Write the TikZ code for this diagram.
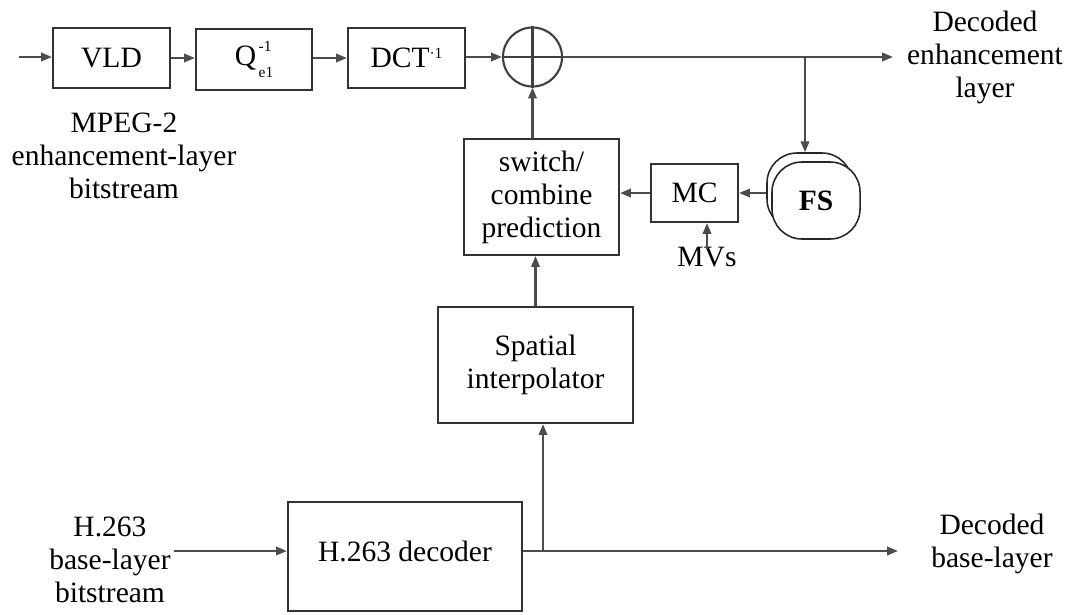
\documentclass[tikz,border=0pt]{standalone}
\usepackage{fontspec}
\setmainfont{Liberation Serif}
\usetikzlibrary{arrows.meta,positioning,calc}

\begin{document}
\begin{tikzpicture}[
    x=0.025cm, y=-0.025cm,
    font=\fontsize{21}{23.5}\selectfont,
    blk/.style={draw=black!80, line width=1.5pt, fill=white, inner sep=2pt, align=center},
    fsbox/.style={draw=black!85, line width=1.1pt, fill=white, rounded corners=0.75cm, inner sep=0pt},
    arr/.style={-{Triangle[length=0.27cm,width=0.21cm]}, line width=1.5pt, draw=black!70},
    ln/.style={line width=1.5pt, draw=black!75},
    txt/.style={align=center, inner sep=2pt}
]
\useasboundingbox (0,0) rectangle (1070,614);

% 拡張レイヤの復号
\coordinate (in1) at (19,57);
\node[blk, minimum width=2.925cm, minimum height=1.5cm] (vld) at (111.5,58) {VLD};
\node[blk, minimum width=2.9cm, minimum height=1.525cm] (iq) at (254,59.5)
    {Q\rlap{\raisebox{10pt}{\fontsize{11}{11}\selectfont\,-1}}\raisebox{-8pt}{\fontsize{11}{11}\selectfont\,e1}};
\node[blk, minimum width=2.925cm, minimum height=1.5cm] (dct) at (406.5,58)
    {DCT\raisebox{7pt}{\fontsize{11}{11}\selectfont\textperiodcentered1}};
\node[circle, ln, minimum size=1.475cm, inner sep=0pt] (sum) at (532.5,57) {};
\draw[ln] (sum.north) -- (sum.south) (sum.west) -- (sum.east);

\draw[arr] (in1) -- (in1 -| vld.west);
\draw[arr] (vld.east) -- (vld.east -| iq.west);
\draw[arr] (iq.east |- dct.west) -- (dct.west);
\draw[arr] (dct.east |- sum.west) -- (sum.west);

\node[txt] (mpeg) at (124,156) {MPEG-2\\enhancement-layer\\bitstream};

% 出力と予測ループ
\coordinate (out1) at (893,57);
\coordinate (br1) at (805,57);
\node[txt] (decenh) at (985,57) {Decoded\\enhancement\\layer};
\draw[arr] (sum.east) -- (out1);

\node[fsbox, minimum width=2.125cm, minimum height=1.9cm] (fsb) at (809.5,191) {};
\node[fsbox, minimum width=2.2cm, minimum height=1.925cm] (fs) at (816,200.5) {\textbf{FS}};
\draw[arr] (br1) -- (br1 |- fsb.north);

\node[blk, minimum width=2.175cm, minimum height=1.45cm] (mc) at (694.5,193) {MC};
\node[blk, minimum width=3.875cm, minimum height=2.9cm] (sw) at (541.5,197) {switch/\\combine\\prediction};
\node[txt] (mvs) at (707,257) {MVs};

\draw[arr] (mc.east -| fsb.west) -- (mc.east);
\draw[arr] (mc.west) -- (mc.west -| sw.east);
\draw[arr] ([yshift=-0.12cm]mvs.north) -- (mvs.north |- mc.south);
\draw[arr] (sum.south |- sw.north) -- (sum.south);

% ベースレイヤ
\node[blk, minimum width=4.875cm, minimum height=2.9cm] (sp) at (535.5,365) {Spatial\\interpolator};
\node[blk, minimum width=5.85cm, minimum height=2.725cm, text height=0.5cm, text depth=0.25cm] (dec) at (405,556.5) {H.263 decoder};
\node[txt] (h263) at (110,560) {H.263\\base-layer\\bitstream};
\node[txt] (decbase) at (992,544) {Decoded\\base-layer};

\coordinate (bl) at (0,551);
\coordinate (out2) at (898,551);
\coordinate (br2) at (543,551);
\draw[arr] (sp.north) -- (sp.north |- sw.south);
\draw[arr] (h263.east |- bl) -- (dec.west |- bl);
\draw[arr] (dec.east |- bl) -- (out2);
\draw[arr] (br2) -- (br2 |- sp.south);

\end{tikzpicture}
\end{document}
